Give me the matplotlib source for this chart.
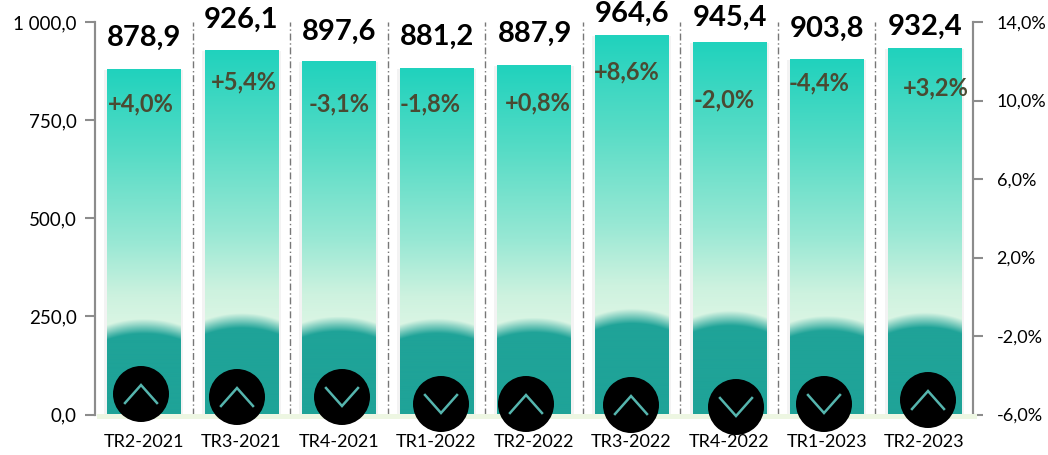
import numpy as np
import matplotlib
matplotlib.use('Agg')
import matplotlib.pyplot as plt
from matplotlib.colors import to_rgb
from matplotlib.patches import Circle, Rectangle
from matplotlib.ticker import FuncFormatter

plt.rcParams['font.family'] = ['Lato', 'DejaVu Sans']

periods = ['TR2-2021', 'TR3-2021', 'TR4-2021', 'TR1-2022', 'TR2-2022',
           'TR3-2022', 'TR4-2022', 'TR1-2023', 'TR2-2023']
totals = [878.9, 926.1, 897.6, 881.2, 887.9, 964.6, 945.4, 903.8, 932.4]
growth = [4.0, 5.4, -3.1, -1.8, 0.8, 8.6, -2.0, -4.4, 3.2]
left_ticks = [0, 250, 500, 750, 1000]
right_ticks = [-6, -2, 2, 6, 10, 14]

# hand placed labels and badges, in image pixels (y from the top)
total_xy = [(144, 38), (241, 20), (339, 32), (437, 37), (535, 34),
            (632, 14), (730, 18), (827, 29), (925, 27)]
growth_xy = [(141, 104), (244, 82), (339, 104), (430, 104), (538, 103),
             (627, 72), (724, 100), (819, 83), (936, 88)]
badge_xy = [(141, 394), (237, 397), (342, 397), (441, 404), (526, 404),
            (631, 405), (736, 407), (824, 404), (928, 400)]

W, H = 1048, 455
fig = plt.figure(figsize=(W/100, H/100), dpi=100)
ax = fig.add_axes([95/W, 1-414.5/H, 878/W, 392.5/H])
ax2 = ax.twinx()

stops_t = [0.0, 0.24, 0.34, 0.50, 0.75, 1.0]
stops_c = np.array([to_rgb(c) for c in ['#DDF6E5', '#DDF6E5', '#CDF2DF', '#98E8D4', '#58DCC6', '#20D2BD']])
dark = np.array(to_rgb('#1FA398'))
bar_w = 0.75

for i, v in enumerate(totals):
    # soft shadow at the bar edges
    ax.add_patch(Rectangle((i-bar_w/2-0.03, 0), bar_w+0.06, v, color='#F3F3F3', lw=0, zorder=1))
    yy = np.linspace(v, 0, 400)
    uu = np.linspace(-1, 1, 74)
    U, Y = np.meshgrid(uu, yy)
    img = np.zeros(U.shape + (3,))
    for k in range(3):
        img[..., k] = np.interp(Y/v, stops_t, stops_c[:, k])
    # dark dome at the foot of the bar
    arc_top = 204 + (v-878.9)*0.3
    dome = arc_top*np.sqrt(1-(U*0.38)**2)
    s = np.clip((Y-dome)/38, 0, 1)[..., None]
    img = dark*(1-s) + img*s
    ax.imshow(img, extent=(i-bar_w/2, i+bar_w/2, 0, v), aspect='auto', zorder=2, interpolation='bilinear')

# separators between the quarters
for i in range(1, len(periods)):
    ax.plot([i-0.5, i-0.5], [0, 1000], color='#777777', lw=1, ls=(0, (5, 2, 1, 2)), zorder=1.5)

ax.set_xlim(-0.5, len(periods)-0.5)
ax.set_ylim(0, 1000)
ax2.set_ylim(-6, 14)
ax.set_yticks(left_ticks)
ax2.set_yticks(right_ticks)
ax.yaxis.set_major_formatter(FuncFormatter(lambda y, _: f'{y:,.1f}'.replace(',', ' ').replace('.', ',')))
ax2.yaxis.set_major_formatter(FuncFormatter(lambda y, _: f'{y:.1f}%'.replace('.', ',')))
ax.set_xticks(range(len(periods)))
ax.set_xticklabels(periods)

ax.tick_params(axis='x', length=0, labelsize=13, pad=14, colors='black')
ax.tick_params(axis='y', length=7, width=1.5, color='#8C8C8C', labelsize=13.5, pad=6)
ax2.tick_params(axis='y', length=7, width=1.5, color='#8C8C8C', labelsize=13, pad=10)
for a in (ax, ax2):
    a.spines['top'].set_visible(False)
    a.spines['left'].set_color('#8C8C8C')
    a.spines['right'].set_color('#8C8C8C')
    a.spines['left'].set_linewidth(1.5)
    a.spines['right'].set_linewidth(1.5)
    a.spines['bottom'].set_visible(False)
ax2.set_zorder(0)
ax.set_zorder(1)
ax.patch.set_visible(False)

# overlay in image pixels for the badges and labels
ov = fig.add_axes([0, 0, 1, 1], zorder=5)
ov.set_xlim(0, W)
ov.set_ylim(H, 0)
ov.axis('off')
ov.add_patch(Rectangle((97, 414), 880, 5, color='#EDF6E2', lw=0, zorder=1))

for (x, y), g in zip(badge_xy, growth):
    ov.add_patch(Circle((x, y), 28, color='black', lw=0, zorder=2))
    d = -1 if g > 0 else 1
    ov.plot([x-16, x, x+16], [y-9*d, y+9*d, y-9*d], color='#55B5AE', lw=1.8, zorder=3,
            solid_joinstyle='miter')

for (x, y), v in zip(total_xy, totals):
    ov.text(x, y, f'{v:.1f}'.replace('.', ','), ha='center', va='center',
            fontsize=21, fontweight='bold', color='black', zorder=4)
for (x, y), g in zip(growth_xy, growth):
    ov.text(x, y, f'{g:+.1f}%'.replace('.', ','), ha='center', va='center',
            fontsize=17, fontweight='bold', color='#4A4A32', zorder=4)

fig.savefig('out.png', dpi=100)
